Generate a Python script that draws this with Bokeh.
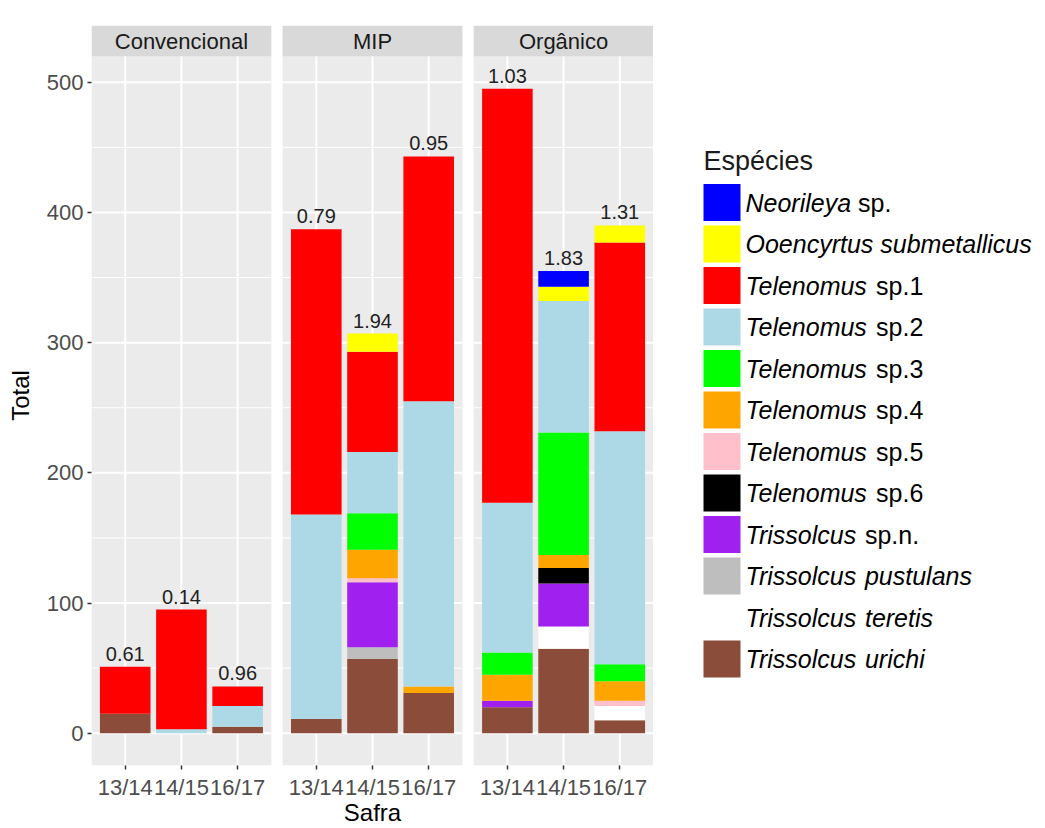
from bokeh.plotting import figure
from bokeh.models import ColumnDataSource, Range1d, FixedTicker
from bokeh.layouts import row
from bokeh.embed import file_html
from bokeh.resources import INLINE
from bokeh.core.properties import value

# ---------------- data ----------------
facets = ["Convencional", "MIP", "Orgânico"]
safras = ["13/14", "14/15", "16/17"]

# legend order (top of the stack first)
species_keys = ["neorileya", "ooencyrtus", "tel1", "tel2", "tel3", "tel4",
                "tel5", "tel6", "triss_spn", "pustulans", "teretis", "urichi"]
genus = ["Neorileya", "Ooencyrtus", "Telenomus", "Telenomus", "Telenomus", "Telenomus",
         "Telenomus", "Telenomus", "Trissolcus", "Trissolcus", "Trissolcus", "Trissolcus"]
epithet = ["sp.", "submetallicus", "sp.1", "sp.2", "sp.3", "sp.4",
           "sp.5", "sp.6", "sp.n.", "pustulans", "teretis", "urichi"]
italic_epithet = [False, True, False, False, False, False,
                  False, False, False, True, True, True]
colors = ["#0000FF", "#FFFF00", "#FF0000", "#ADD8E6", "#00FF00", "#FFA500",
          "#FFC0CB", "#000000", "#A020F0", "#BEBEBE", "#FFFFFF", "#8B4C39"]

# counts, ordered Convencional(13/14,14/15,16/17), MIP(...), Orgânico(...)
neorileya = [0, 0, 0, 0, 0, 0, 0, 12, 0]
ooencyrtus = [0, 0, 0, 0, 14, 0, 0, 11, 13]
tel1 = [36, 92, 15, 219, 77, 188, 318, 0, 145]
tel2 = [0, 3, 16, 157, 47, 219, 115, 101, 179]
tel3 = [0, 0, 0, 0, 28, 0, 17, 94, 13]
tel4 = [0, 0, 0, 0, 22, 5, 20, 10, 15]
tel5 = [0, 0, 0, 0, 3, 0, 0, 0, 4]
tel6 = [0, 0, 0, 0, 0, 0, 0, 12, 0]
triss_spn = [0, 0, 0, 0, 50, 0, 5, 33, 0]
pustulans = [0, 0, 0, 0, 9, 0, 0, 0, 0]
teretis = [0, 0, 0, 0, 0, 0, 0, 17, 11]
urichi = [15, 0, 5, 11, 57, 31, 20, 65, 10]

index_labels = ["0.61", "0.14", "0.96", "0.79", "1.94", "0.95", "1.03", "1.83", "1.31"]

y_ticks = [0, 100, 200, 300, 400, 500]
y_minor = [50, 150, 250, 350, 450]

# ---------------- layout constants ----------------
FONT = "Liberation Sans"
PANEL_BG = "#EBEBEB"
STRIP_BG = "#D9D9D9"
STEP = 3.4            # panel width (3.2) + gap (0.2) in x units
Y0, Y1 = -24.75, 519.75
FRAME_TOP_PX, PANEL_TOP_PX, FRAME_BOTTOM_PX = 25, 56, 765
Y_END = Y0 + (Y1 - Y0) * (FRAME_BOTTOM_PX - FRAME_TOP_PX) / (FRAME_BOTTOM_PX - PANEL_TOP_PX)

series = dict(neorileya=neorileya, ooencyrtus=ooencyrtus, tel1=tel1, tel2=tel2, tel3=tel3,
              tel4=tel4, tel5=tel5, tel6=tel6, triss_spn=triss_spn, pustulans=pustulans,
              teretis=teretis, urichi=urichi)

xs = [round(k * STEP + j + 1, 2) for k in range(3) for j in range(3)]
totals = [sum(series[s][i] for s in species_keys) for i in range(9)]

data = dict(x=xs, total=totals, label=index_labels)
data.update(series)
src = ColumnDataSource(data)

# ---------------- main faceted plot ----------------
p = figure(width=653, height=828, x_range=Range1d(0.4, 10.4), y_range=Range1d(Y0, Y_END),
           min_border_left=91, min_border_right=0, min_border_top=FRAME_TOP_PX,
           min_border_bottom=828 - FRAME_BOTTOM_PX, toolbar_location=None, tools="",
           output_backend="svg")
p.outline_line_color = None
p.background_fill_color = "white"
p.border_fill_color = "white"
p.xgrid.visible = False
p.ygrid.visible = False

lefts = [k * STEP + 0.4 for k in range(3)]
rights = [k * STEP + 3.6 for k in range(3)]
centers = [k * STEP + 2.0 for k in range(3)]

# panel backgrounds and strips
p.quad(left=lefts, right=rights, bottom=Y0, top=Y1, fill_color=PANEL_BG, line_color=None)
p.quad(left=lefts, right=rights, bottom=Y1, top=Y_END, fill_color=STRIP_BG, line_color=None)
p.text(x=centers, y=[(Y1 + Y_END) / 2] * 3, text=facets, text_align="center",
       text_baseline="middle", text_font=value(FONT), text_font_size="22px",
       text_color="#1A1A1A")

# grid lines, per panel
mx0, mx1, my = [], [], []
for k in range(3):
    for yv in y_minor:
        mx0.append(lefts[k]); mx1.append(rights[k]); my.append(yv)
p.segment(x0=mx0, y0=my, x1=mx1, y1=my, line_color="white", line_width=1)
gx0, gx1, gy = [], [], []
for k in range(3):
    for yv in y_ticks:
        gx0.append(lefts[k]); gx1.append(rights[k]); gy.append(yv)
p.segment(x0=gx0, y0=gy, x1=gx1, y1=gy, line_color="white", line_width=2)
p.segment(x0=xs, y0=[Y0] * 9, x1=xs, y1=[Y1] * 9, line_color="white", line_width=2)

# stacked bars (bottom of the stack first)
stack_order = species_keys[::-1]
p.vbar_stack(stack_order, x="x", width=0.9, source=src,
             fill_color=colors[::-1], line_color=None)

# index values above each bar
p.text(x="x", y="total", text="label", source=src, text_align="center",
       text_baseline="bottom", y_offset=-6, text_font=value(FONT),
       text_font_size="20px", text_color="#222222")

# axes
p.yaxis.ticker = FixedTicker(ticks=y_ticks, minor_ticks=[])
p.xaxis.ticker = FixedTicker(ticks=xs, minor_ticks=[])
p.xaxis.major_label_overrides = {x: safras[i % 3] for i, x in enumerate(xs)}
for ax in (p.xaxis[0], p.yaxis[0]):
    ax.axis_line_color = None
    ax.major_tick_line_color = "#333333"
    ax.major_tick_line_width = 1.5
    ax.major_tick_out = 4
    ax.major_tick_in = 0
    ax.minor_tick_line_color = None
    ax.major_label_text_font = FONT
    ax.major_label_text_font_size = "22px"
    ax.major_label_text_color = "#4D4D4D"
    ax.axis_label_text_font = FONT
    ax.axis_label_text_font_size = "24px"
    ax.axis_label_text_font_style = "normal"
    ax.axis_label_text_color = "black"
p.yaxis.axis_label = "Total"
p.yaxis.major_label_standoff = 4
p.yaxis.axis_label_standoff = 10
p.xaxis.axis_label = "Safra"
p.xaxis.major_label_standoff = 5
p.xaxis.axis_label_standoff = -4

# ---------------- legend panel ----------------
# the row aligns this frame with the main frame, so its y range is given in page pixels
lg = figure(width=392, height=828, x_range=Range1d(653, 1045),
            y_range=Range1d(FRAME_BOTTOM_PX, FRAME_TOP_PX),
            min_border_left=0, min_border_right=0, min_border_top=FRAME_TOP_PX,
            min_border_bottom=828 - FRAME_BOTTOM_PX, toolbar_location=None, tools="",
            output_backend="svg", x_axis_type=None, y_axis_type=None)
lg.outline_line_color = None
lg.background_fill_color = "white"
lg.border_fill_color = "white"

# Arial-metric advance widths (em) for placing the upright part after the italic genus
ADV = {" ": .278, "N": .722, "O": .778, "T": .611, "a": .556, "c": .5, "e": .556, "i": .222,
       "l": .222, "m": .833, "n": .556, "o": .556, "r": .333, "s": .5, "t": .278, "u": .556,
       "y": .5}
LEG_SIZE = 25
KEY_X0, KEY_W, KEY_H, KEY_MID0, KEY_PITCH = 703, 37, 37, 202, 41.5
TEXT_X = 745

mids = [KEY_MID0 + i * KEY_PITCH for i in range(len(species_keys))]
lg.quad(left=KEY_X0, right=KEY_X0 + KEY_W, top=[m - KEY_H / 2 for m in mids],
        bottom=[m + KEY_H / 2 for m in mids], fill_color=colors, line_color=None)
lg.text(x=KEY_X0, y=[160], text=["Espécies"], text_baseline="middle",
        text_font=value(FONT), text_font_size="27px", text_color="#1A1A1A")

lg.text(x=[TEXT_X] * len(genus), y=mids, text=genus, text_baseline="middle",
        text_font=value(FONT), text_font_size=f"{LEG_SIZE}px", text_font_style="italic",
        text_color="black")
ep_x = [TEXT_X + sum(ADV[c] for c in g + " ") * LEG_SIZE for g in genus]
it_x = [x for x, it in zip(ep_x, italic_epithet) if it]
it_y = [y for y, it in zip(mids, italic_epithet) if it]
it_t = [t for t, it in zip(epithet, italic_epithet) if it]
up_x = [x for x, it in zip(ep_x, italic_epithet) if not it]
up_y = [y for y, it in zip(mids, italic_epithet) if not it]
up_t = [t for t, it in zip(epithet, italic_epithet) if not it]
lg.text(x=it_x, y=it_y, text=it_t, text_baseline="middle", text_font=value(FONT),
        text_font_size=f"{LEG_SIZE}px", text_font_style="italic", text_color="black")
lg.text(x=up_x, y=up_y, text=up_t, text_baseline="middle", text_font=value(FONT),
        text_font_size=f"{LEG_SIZE}px", text_color="black")

layout = row(p, lg)
open("out.html", "w").write(file_html(layout, INLINE))
